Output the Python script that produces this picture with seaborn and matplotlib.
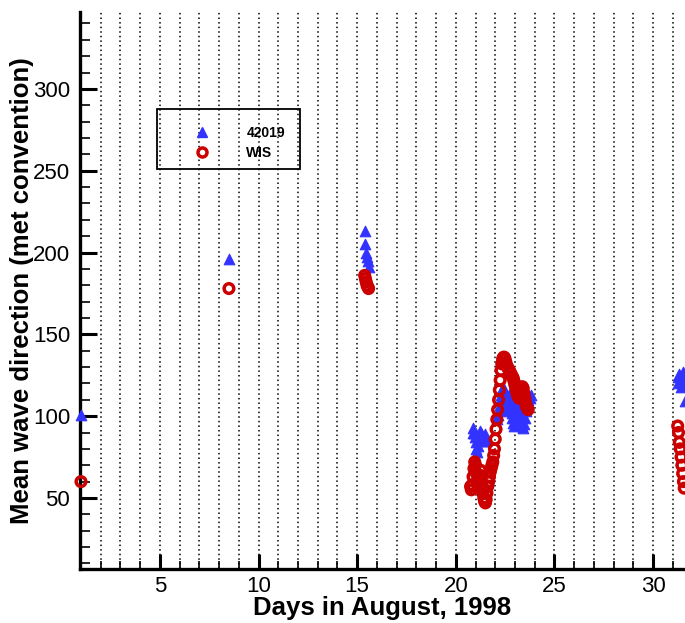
import numpy as np
import pandas as pd
import matplotlib
matplotlib.use("Agg")
import matplotlib.pyplot as plt
import seaborn as sns
from matplotlib.lines import Line2D
from matplotlib.patches import Rectangle
from matplotlib.ticker import MultipleLocator

# ---------------- data ----------------
buoy_days = [1.0,
             8.5,
             15.38, 15.42, 15.46, 15.5, 15.54, 15.58,
             20.85, 20.88, 20.92, 20.96, 21.0, 21.04, 21.08, 21.12, 21.17, 21.21, 21.25,
             21.29, 21.33, 21.375, 21.42, 21.46, 21.5, 21.54,
             22.1, 22.14, 22.18, 22.22, 22.26, 22.3, 22.34, 22.38, 22.42, 22.46,
             22.5, 22.54, 22.58, 22.62, 22.67, 22.71, 22.75, 22.79, 22.83, 22.875,
             22.92, 22.96, 23.0, 23.04, 23.08, 23.12, 23.17, 23.21, 23.25, 23.29,
             23.33, 23.375, 23.42, 23.46, 23.5, 23.54, 23.58, 23.62, 23.67, 23.71,
             23.75, 23.8,
             31.25, 31.29, 31.33, 31.375, 31.42, 31.46, 31.5, 31.54, 31.58, 31.62]
buoy_dir = [101,
            196,
            213, 205, 200, 197, 195, 191,
            90, 93, 90, 87, 84, 80, 78, 82, 86, 89, 91,
            90, 88, 86, 85, 87, 89, 85,
            98, 101, 104, 107, 110, 113, 116, 118, 115, 112,
            108, 105, 103, 106, 110, 113, 110, 106, 102, 99,
            96, 94, 97, 100, 104, 107, 110, 108, 104, 100,
            97, 94, 93, 95, 99, 103, 106, 108, 110, 112,
            111, 113,
            120, 124, 126, 122, 118, 121, 125, 127, 123, 109]

wis_days = [1.0,
            8.5,
            15.38, 15.42, 15.46, 15.5, 15.54, 15.58,
            20.75, 20.79, 20.83, 20.875, 20.92, 20.96, 21.0, 21.04, 21.08, 21.12,
            21.17, 21.21, 21.25, 21.29, 21.33, 21.375, 21.42, 21.46, 21.5, 21.54,
            21.58, 21.62, 21.67, 21.71, 21.75, 21.79, 21.83, 21.875, 21.92, 21.96,
            22.0, 22.04, 22.08, 22.12, 22.17, 22.21, 22.25, 22.29, 22.33, 22.375,
            22.42, 22.46, 22.5, 22.54, 22.58, 22.62, 22.67, 22.71, 22.75, 22.79,
            22.83, 22.875, 22.92, 22.96, 23.0, 23.04, 23.08, 23.12, 23.17, 23.21,
            23.25, 23.29, 23.33, 23.375, 23.42, 23.46, 23.5, 23.54, 23.58, 23.62,
            23.67,
            31.25, 31.29, 31.33, 31.375, 31.42, 31.46, 31.5, 31.54, 31.58]
wis_dir = [60,
           178,
           186, 184, 182, 180, 179, 178,
           57, 55, 58, 63, 68, 72, 70, 65, 60, 57,
           60, 64, 67, 63, 58, 53, 50, 48, 47, 49,
           53, 57, 60, 63, 66, 68, 70, 72, 76, 80,
           86, 92, 98, 104, 110, 116, 122, 128, 132, 135,
           136, 136, 135, 133, 131, 130, 129, 128, 127, 126,
           125, 124, 123, 121, 119, 117, 115, 113, 112, 111,
           112, 114, 116, 118, 117, 114, 111, 108, 106, 105,
           104,
           94, 90, 84, 80, 75, 70, 65, 60, 56]

series_names = ["42019", "WIS"]
x_major_ticks = [5, 10, 15, 20, 25, 30]
y_major_ticks = [50, 100, 150, 200, 250, 300]

buoy = pd.DataFrame({"day": buoy_days, "dir": buoy_dir})
wis = pd.DataFrame({"day": wis_days, "dir": wis_dir})

BLUE = "#3333ff"
RED = "#cc0000"

# ---------------- style ----------------
sns.set_style("ticks")
plt.rcParams["font.family"] = ["Liberation Sans", "DejaVu Sans"]
plt.rcParams["text.color"] = "black"
plt.rcParams["axes.labelcolor"] = "black"

fig = plt.figure(figsize=(6.85, 6.23), dpi=100)
ax = fig.add_axes([80 / 685, 54 / 623, 605 / 685, 557 / 623])

sns.scatterplot(data=buoy, x="day", y="dir", ax=ax, marker="^", s=58,
                color=BLUE, edgecolor=BLUE, linewidth=0.8, clip_on=False,
                zorder=3, legend=False)
sns.scatterplot(data=wis, x="day", y="dir", ax=ax, marker="o", s=48,
                facecolors="none", edgecolor=RED, linewidth=2.5,
                clip_on=False, zorder=4, legend=False)

ax.set_xlim(0.95, 31.62)
ax.set_ylim(6.6, 347)
ax.set_xticks(x_major_ticks)
ax.set_yticks(y_major_ticks)
ax.xaxis.set_minor_locator(MultipleLocator(1))
ax.yaxis.set_minor_locator(MultipleLocator(10))

ax.tick_params(axis="both", which="major", direction="in", length=11,
               width=2.2, labelsize=16, pad=5, color="black", labelcolor="black")
ax.tick_params(axis="both", which="minor", direction="in", length=6,
               width=1.2, color="black")
ax.tick_params(axis="y", which="major", length=12, pad=7)
ax.tick_params(axis="y", which="minor", length=7)

ax.grid(False)
ax.grid(True, which="both", axis="x", color="black", linestyle=(0, (1, 2)),
        linewidth=1.1)
ax.set_axisbelow(True)

for side in ["top", "right"]:
    ax.spines[side].set_visible(False)
for side in ["left", "bottom"]:
    ax.spines[side].set_linewidth(2.4)
    ax.spines[side].set_color("black")

ax.set_xlabel("Days in August, 1998", fontsize=18.5, fontweight="bold",
              labelpad=-1, color="black")
ax.set_ylabel("Mean wave direction (met convention)", fontsize=18.5,
              fontweight="bold", labelpad=-1, color="black")

# legend box
ax.add_patch(Rectangle((0.127, 0.718), 0.237, 0.108, transform=ax.transAxes,
                       fill=False, edgecolor="black", linewidth=1.3, zorder=5))
handles = [
    Line2D([], [], linestyle="none", marker="^", markersize=7.5,
           markerfacecolor=BLUE, markeredgecolor=BLUE),
    Line2D([], [], linestyle="none", marker="o", markersize=6.5,
           markerfacecolor="none", markeredgecolor=RED, markeredgewidth=2.5),
]
leg = ax.legend(handles, series_names, loc="center left",
                bbox_to_anchor=(0.19, 0.765), frameon=False,
                handlelength=1.0, handletextpad=2.7, borderpad=0,
                borderaxespad=0, labelspacing=0.4,
                prop={"weight": "bold", "size": 10})
for t in leg.get_texts():
    t.set_color("black")

fig.savefig("out.png", dpi=100)
